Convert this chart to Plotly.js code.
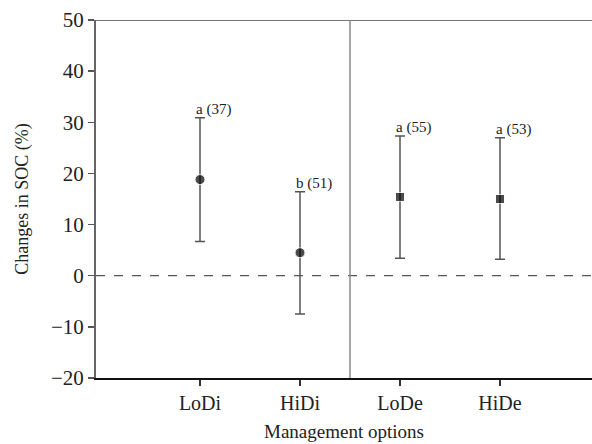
<!DOCTYPE html>
<html><head><meta charset="utf-8">
<script src="https://cdn.plot.ly/plotly-3.0.1.min.js"></script>
<style>html,body{margin:0;padding:0;background:#fff}</style>
</head><body><div id="chart" style="width:592px;height:444px"></div>
<script>
const categories = ["LoDi", "HiDi", "LoDe", "HiDe"];
const means = [18.8, 4.5, 15.4, 15.0];
const upper = [30.9, 16.4, 27.3, 27.0];
const lower = [6.7, -7.5, 3.4, 3.2];
const letters = ["a", "b", "a", "a"];
const counts = [37, 51, 55, 53];
const symbols = ["circle", "circle", "square", "square"];

const xs = categories.map((c, i) => i);
const font = "Liberation Serif, Times New Roman, serif";

const trace = {
  x: xs, y: means, type: "scatter", mode: "markers",
  marker: {color: "#000", size: means.map((m, i) => symbols[i] === "circle" ? 10 : 9), symbol: symbols},
  error_y: {type: "data", symmetric: false,
    array: upper.map((u, i) => u - means[i]),
    arrayminus: means.map((m, i) => m - lower[i]),
    color: "#555", thickness: 1.5, width: 5},
  showlegend: false, hoverinfo: "skip"
};

const annotations = xs.map((x, i) => ({
  x: x, y: upper[i], xref: "x", yref: "y",
  text: letters[i] + " (" + counts[i] + ")", showarrow: false,
  xanchor: "left", yanchor: "bottom", xshift: -6, yshift: -2,
  font: {family: font, size: 15, color: "#222"}
}));

const layout = {
  width: 592, height: 444,
  margin: {l: 96, r: 0, t: 20, b: 66},
  paper_bgcolor: "#fff", plot_bgcolor: "#fff",
  font: {family: font, color: "#222"},
  xaxis: {range: [-1.04, 3.92], tickvals: xs, ticktext: categories,
    ticks: "outside", ticklen: 6, tickwidth: 1.5, tickcolor: "#333",
    showline: true, linecolor: "#111", linewidth: 2, showgrid: false, zeroline: false,
    tickfont: {family: font, size: 20, color: "#222"},
    title: {text: "Management options", font: {family: font, size: 19, color: "#222"}, standoff: 12}},
  yaxis: {range: [-20, 50], tickvals: [-20, -10, 0, 10, 20, 30, 40, 50],
    ticktext: ["\u221220", "\u221210", "0", "10", "20", "30", "40", "50"],
    ticks: "outside", ticklen: 6, tickwidth: 1.5, tickcolor: "#555",
    showline: true, linecolor: "#666", linewidth: 2, showgrid: false, zeroline: false,
    tickfont: {family: font, size: 21, color: "#222"},
    title: {text: "Changes in SOC (%)", font: {family: font, size: 18, color: "#222"}, standoff: 18}},
  shapes: [
    {type: "line", xref: "paper", yref: "y", x0: 0, x1: 1, y0: 50, y1: 50, line: {color: "#777", width: 2}},
    {type: "line", xref: "paper", yref: "y", x0: 0, x1: 1, y0: 0, y1: 0, line: {color: "#555", width: 1.3, dash: "dash"}},
    {type: "line", xref: "x", yref: "paper", x0: 1.5, x1: 1.5, y0: 0, y1: 1, line: {color: "#888", width: 1.5}}
  ],
  annotations: annotations
};

Plotly.newPlot("chart", [trace], layout, {displayModeBar: false, staticPlot: true});
</script></body></html>
